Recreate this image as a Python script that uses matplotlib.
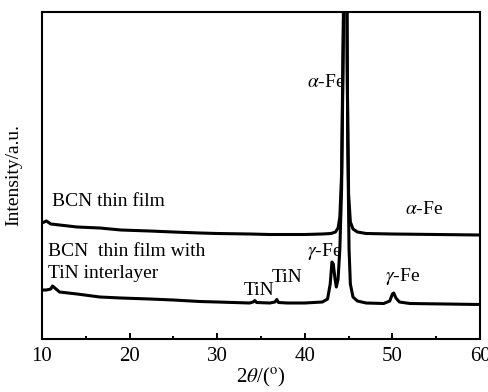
import matplotlib
matplotlib.use("Agg")
import matplotlib.pyplot as plt
from matplotlib.ticker import MultipleLocator

plt.rcParams["font.family"] = ["Liberation Serif", "DejaVu Serif"]
plt.rcParams["mathtext.fontset"] = "stix"

# XRD pattern (2theta in degrees, intensity in arbitrary units)
two_theta_bcn = [10.0, 10.5, 11.0, 12.0, 14.0, 16.6, 19.0, 22.3, 25.0, 28.0, 30.0,
                 33.7, 36.0, 40.0, 42.0, 43.0, 43.5, 43.8, 44.0, 44.2, 44.4,
                 44.55, 44.7, 44.85, 45.0, 45.2, 45.5, 46.0, 47.0, 50.0, 55.0, 60.0]
intensity_bcn = [116, 118, 115, 114, 112, 111, 109, 108, 107, 106, 105.5,
                 105, 104.5, 104.5, 105, 105.5, 107, 111, 122, 165, 320,
                 520, 520, 260, 145, 117, 110, 107, 105.5, 105, 104.5, 104]

two_theta_tin = [10.0, 10.5, 11.0, 11.2, 12.0, 14.0, 16.6, 19.0, 22.3, 25.0, 28.0,
                 30.0, 33.7, 34.1, 34.3, 34.5, 36.0, 36.6, 36.8, 37.0, 38.0, 40.0,
                 42.0, 42.6, 42.9, 43.1, 43.25, 43.45, 43.6, 43.8, 44.0, 44.2, 44.4,
                 44.6, 44.75, 44.9, 45.05, 45.2, 45.5, 46.0, 47.0, 49.0, 49.7, 50.0,
                 50.15, 50.4, 50.8, 52.0, 56.0, 60.0]
intensity_tin = [49, 49, 50, 53, 47, 45, 42, 41, 40, 39, 37.5,
                 37, 36, 37, 38.5, 36.5, 36, 37, 39.5, 36.5, 36, 36,
                 37, 40, 55, 77, 75, 60, 52, 60, 90, 150, 300,
                 520, 420, 200, 90, 55, 42, 38, 36, 35.5, 38, 45,
                 46, 41, 37, 35.5, 35, 34.5]

fig = plt.figure(figsize=(4.89, 3.92), dpi=100)
ax = fig.add_axes([0.0859, 0.1352, 0.8957, 0.8342])

ax.plot(two_theta_bcn, intensity_bcn, color="black", lw=2.2)
ax.plot(two_theta_tin, intensity_tin, color="black", lw=2.2)

ax.set_xlim(10, 60)
ax.set_ylim(0, 327)
ax.xaxis.set_major_locator(MultipleLocator(10))
ax.xaxis.set_minor_locator(MultipleLocator(5))
ax.tick_params(axis="x", which="both", direction="in", top=False, labelsize=15, pad=6)
ax.tick_params(axis="x", which="major", length=4, width=1.4)
ax.tick_params(axis="x", which="minor", length=2.5, width=1.4)
ax.set_yticks([])
for s in ax.spines.values():
    s.set_linewidth(1.5)

ax.set_xlabel(r"2$\theta$/($^{\rm o}$)", fontsize=15, labelpad=0)
ax.set_ylabel("Intensity/a.u.", fontsize=14, labelpad=14)

fs = 14
ax.text(40.25, 256, r"$\alpha$-Fe", fontsize=fs, va="center", ha="left")
ax.text(11.1, 137, "BCN thin film", fontsize=fs, va="center", ha="left")
ax.text(51.4, 129, r"$\alpha$-Fe", fontsize=fs, va="center", ha="left")
ax.text(10.7, 87, "BCN  thin film with", fontsize=fs, va="center", ha="left")
ax.text(10.7, 66, "TiN interlayer", fontsize=fs, va="center", ha="left")
ax.text(40.25, 87, r"$\gamma$-Fe", fontsize=fs, va="center", ha="left")
ax.text(36.25, 62, "TiN", fontsize=fs, va="center", ha="left")
ax.text(33.05, 49, "TiN", fontsize=fs, va="center", ha="left")
ax.text(49.15, 63, r"$\gamma$-Fe", fontsize=fs, va="center", ha="left")

fig.savefig("out.png", dpi=100)
